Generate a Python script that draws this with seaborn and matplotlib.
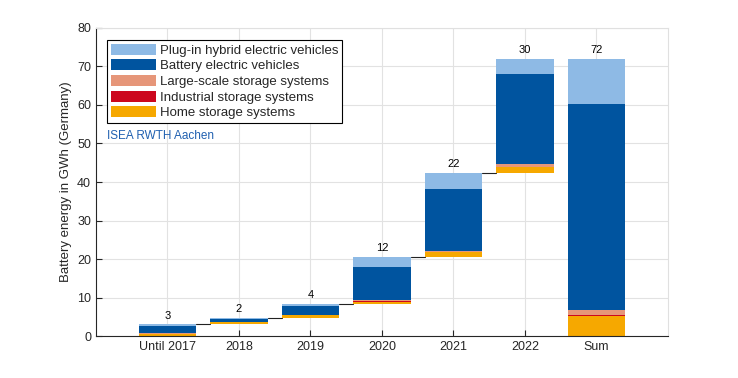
import numpy as np
import matplotlib
matplotlib.use("Agg")
import matplotlib.pyplot as plt
import seaborn as sns

years = ["Until 2017", "2018", "2019", "2020", "2021", "2022"]
home = [0.6, 0.5, 0.7, 0.5, 1.3, 1.6]
industrial = [0.02, 0.02, 0.03, 0.1, 0.04, 0.04]
large = [0.1, 0.05, 0.15, 0.3, 0.2, 0.6]
bev = [1.9, 0.9, 2.4, 8.7, 16.0, 23.5]
phev = [0.4, 0.15, 0.45, 2.6, 4.2, 3.9]

names = ["Home storage systems", "Industrial storage systems",
         "Large-scale storage systems", "Battery electric vehicles",
         "Plug-in hybrid electric vehicles"]
colors = ["#F6A800", "#CC071E", "#E69679", "#00549F", "#8EBAE5"]

sns.set_style("whitegrid")
plt.rcParams["font.family"] = ["Liberation Sans", "DejaVu Sans"]

series = np.array([home, industrial, large, bev, phev])
yearly = series.sum(axis=0)
cum = np.cumsum(yearly)
start = np.concatenate([[0], cum[:-1]])

cats = years + ["Sum"]
vals = np.hstack([series, series.sum(axis=1, keepdims=True)])
base = np.concatenate([start, [0]])

fig = plt.figure(figsize=(7.38, 3.78), dpi=100)
ax = fig.add_axes([0.130, 0.111, 0.775, 0.815])

bottom = base.copy()
for name, col, v in zip(names, colors, vals):
    sns.barplot(x=cats, y=v, bottom=bottom, color=col, width=0.8,
                label=name, ax=ax, linewidth=0, saturation=1)
    bottom = bottom + v

tops = np.concatenate([cum, [cum[-1]]])
labels = list(np.round(yearly).astype(int)) + [int(round(cum[-1]))]
for i, (t, lab) in enumerate(zip(tops, labels)):
    ax.text(i, t + 1.0, str(lab), ha="center", va="bottom", fontsize=8, color="black")

# connectors between the yearly steps
for i in range(len(years) - 1):
    ax.plot([i + 0.4, i + 0.6], [cum[i], cum[i]], color="#222222", lw=0.8)

ax.set_xlim(-1, 7)
ax.set_ylim(0, 80)
ax.set_yticks(np.arange(0, 81, 10))
ax.set_ylabel("Battery energy in GWh (Germany)", fontsize=9.5, color="#262626")
ax.tick_params(axis="both", labelsize=9, colors="#262626", direction="in",
               length=4, width=0.8, left=True, bottom=True)
ax.grid(True, color="#e2e2e2", lw=0.8)
ax.set_axisbelow(True)
for s in ["left", "bottom"]:
    ax.spines[s].set_color("#262626")
    ax.spines[s].set_linewidth(0.8)
for s in ["top", "right"]:
    ax.spines[s].set_color("#e0e0e0")
    ax.spines[s].set_linewidth(0.8)

h, l = ax.get_legend_handles_labels()
leg = ax.legend(h[::-1], l[::-1], loc="upper left", bbox_to_anchor=(0.012, 0.975),
                fontsize=9.5, frameon=True, fancybox=False, edgecolor="black",
                framealpha=1, borderpad=0.3, labelspacing=0.2,
                handlelength=3.4, handleheight=0.9, handletextpad=0.3,
                borderaxespad=0.3)
leg.get_frame().set_linewidth(0.8)

ax.text(0.02, 0.65, "ISEA RWTH Aachen", transform=ax.transAxes, fontsize=8.5,
        color="#2060B0", ha="left", va="center")

fig.savefig("out.png", dpi=100)
